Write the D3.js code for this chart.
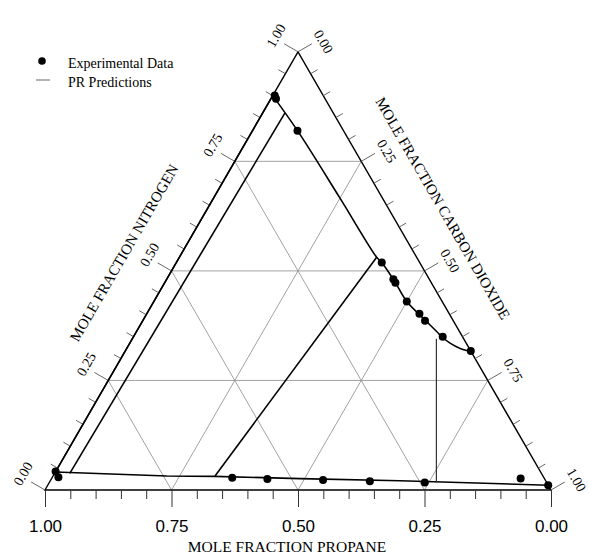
<!DOCTYPE html>
<html>
<head>
<meta charset="utf-8">
<script src="https://cdn.jsdelivr.net/npm/d3@7"></script>
<style>
  body { margin: 0; background: #fff; }
  svg { display: block; }
</style>
</head>
<body>
<svg id="chart" width="589" height="554"></svg>
<script>
// each row: [propane, nitrogen, carbon dioxide] mole fractions
const experimental = [
  [0.096, 0.900, 0.004],
  [0.097, 0.893, 0.010],
  [0.091, 0.820, 0.089],
  [0.075, 0.519, 0.406],
  [0.071, 0.481, 0.448],
  [0.071, 0.473, 0.456],
  [0.070, 0.430, 0.500],
  [0.059, 0.402, 0.539],
  [0.056, 0.386, 0.558],
  [0.039, 0.350, 0.611],
  [0.000, 0.317, 0.683],
  [0.958, 0.042, 0.000],
  [0.959, 0.029, 0.012],
  [0.616, 0.028, 0.356],
  [0.548, 0.025, 0.427],
  [0.439, 0.023, 0.538],
  [0.348, 0.020, 0.632],
  [0.241, 0.017, 0.742],
  [0.047, 0.026, 0.927],
  [0.000, 0.011, 0.989]
];

// PR prediction curves
const prLeft = [[0.959, 0.041, 0.000], [0.100, 0.900, 0.000]];
const prUpper = [
  [0.100, 0.900, 0.000],
  [0.091, 0.820, 0.089],
  [0.084, 0.666, 0.250],
  [0.079, 0.531, 0.390],
  [0.075, 0.519, 0.406],
  [0.071, 0.475, 0.454],
  [0.070, 0.430, 0.500],
  [0.055, 0.388, 0.557],
  [0.045, 0.361, 0.594],
  [0.040, 0.348, 0.612],
  [0.032, 0.335, 0.633],
  [0.018, 0.323, 0.659],
  [0.000, 0.316, 0.684]
];
const prInner = [[0.096, 0.860, 0.044], [0.932, 0.038, 0.030]];
const prTie = [[0.079, 0.531, 0.390], [0.648, 0.032, 0.320]];
const prVertical = [[0.054, 0.345, 0.601], [0.218, 0.017, 0.765]];
const prBottom = [
  [0.959, 0.041, 0.000],
  [0.743, 0.032, 0.225],
  [0.649, 0.031, 0.320],
  [0.483, 0.026, 0.491],
  [0.288, 0.021, 0.691],
  [0.000, 0.011, 0.989]
];

const gridValues = [0.25, 0.5, 0.75];
const tickValues = d3.range(0, 21).map(i => i / 20);
const majorTicks = [0, 0.25, 0.5, 0.75, 1];

const svg = d3.select("#chart");

const x = d3.scaleLinear().domain([0, 1]).range([45, 551]);
const y = d3.scaleLinear().domain([0, 1]).range([490, 490 - 506 * Math.sqrt(3) / 2]);

function proj(d) {
  return [x(d[2] + d[1] / 2), y(d[1])];
}

const S3 = Math.sqrt(3) / 2;
const isMajor = v => majorTicks.some(m => Math.abs(m - v) < 1e-6);

// grid
const grid = svg.append("g").attr("class", "grid");
gridValues.forEach(v => {
  [
    [[1 - v, v, 0], [0, v, 1 - v]],
    [[1 - v, 0, v], [0, 1 - v, v]],
    [[v, 1 - v, 0], [v, 0, 1 - v]]
  ].forEach(seg => {
    const a = proj(seg[0]), b = proj(seg[1]);
    grid.append("line")
      .attr("x1", a[0]).attr("y1", a[1])
      .attr("x2", b[0]).attr("y2", b[1])
      .attr("stroke", "#8a8a8a")
      .attr("stroke-width", 0.8);
  });
});

// triangle
const corners = [[1, 0, 0], [0, 0, 1], [0, 1, 0]].map(proj);
svg.append("path")
  .attr("d", "M" + corners.join("L") + "Z")
  .attr("fill", "none")
  .attr("stroke", "#000")
  .attr("stroke-width", 1.4);

// bottom axis (propane)
const propane = d3.scaleLinear().domain([1, 0]).range([45, 551]);
svg.append("g")
  .attr("transform", "translate(0,490)")
  .call(d3.axisBottom(propane).tickValues(tickValues.filter(v => !isMajor(v))).tickSize(9).tickFormat(""))
  .call(g => g.select(".domain").remove())
  .call(g => g.selectAll("line").attr("stroke", "#333"));

svg.append("g")
  .attr("transform", "translate(0,490)")
  .call(d3.axisBottom(propane).tickValues(majorTicks).tickSize(17).tickPadding(13).tickFormat(d3.format(".2f")))
  .call(g => g.select(".domain").remove())
  .call(g => g.selectAll("line").attr("stroke", "#333"))
  .call(g => g.selectAll("text")
    .attr("font-family", "Liberation Sans, Arial, sans-serif")
    .attr("font-size", 17)
    .attr("fill", "#000"));

svg.append("text")
  .attr("x", 287)
  .attr("y", 552)
  .attr("text-anchor", "middle")
  .attr("font-family", "Liberation Serif, Times New Roman, serif")
  .attr("font-size", 15.5)
  .text("MOLE FRACTION PROPANE");

// left axis (nitrogen) and right axis (carbon dioxide)
const sides = [
  {
    base: v => proj([1 - v, v, 0]),
    out: [-S3, -0.5],
    along: [0.5, -S3],
    rot: -60,
    lab: [27, 3],
    title: "MOLE FRACTION NITROGEN",
    titlePos: [50, -8]
  },
  {
    base: v => proj([0, 1 - v, v]),
    out: [S3, -0.5],
    along: [0.5, S3],
    rot: 60,
    lab: [27, 4],
    title: "MOLE FRACTION CARBON DIOXIDE",
    titlePos: [47, -45]
  }
];

sides.forEach(s => {
  const g = svg.append("g");
  tickValues.forEach(v => {
    const b = s.base(v);
    const len = isMajor(v) ? 16 : 8;
    g.append("line")
      .attr("x1", b[0]).attr("y1", b[1])
      .attr("x2", b[0] + s.out[0] * len)
      .attr("y2", b[1] + s.out[1] * len)
      .attr("stroke", "#555")
      .attr("stroke-width", 0.9);
  });
  majorTicks.forEach(v => {
    const b = s.base(v);
    const px = b[0] + s.out[0] * s.lab[0] + s.along[0] * s.lab[1];
    const py = b[1] + s.out[1] * s.lab[0] + s.along[1] * s.lab[1];
    g.append("text")
      .attr("transform", "translate(" + px + "," + py + ") rotate(" + s.rot + ")")
      .attr("text-anchor", "middle")
      .attr("dominant-baseline", "central")
      .attr("font-family", "Liberation Serif, Times New Roman, serif")
      .attr("font-size", 14)
      .text(d3.format(".2f")(v));
  });
  const m = s.base(0.5);
  const tx = m[0] + s.out[0] * s.titlePos[0] + s.along[0] * s.titlePos[1];
  const ty = m[1] + s.out[1] * s.titlePos[0] + s.along[1] * s.titlePos[1];
  g.append("text")
    .attr("transform", "translate(" + tx + "," + ty + ") rotate(" + s.rot + ")")
    .attr("text-anchor", "middle")
    .attr("dominant-baseline", "central")
    .attr("font-family", "Liberation Serif, Times New Roman, serif")
    .attr("font-size", 15)
    .text(s.title);
});

// PR predictions
const line = d3.line().x(d => proj(d)[0]).y(d => proj(d)[1]);
const smooth = d3.line().x(d => proj(d)[0]).y(d => proj(d)[1]).curve(d3.curveCatmullRom.alpha(0.5));

[prLeft, prInner, prTie, prBottom].forEach(data => {
  svg.append("path")
    .attr("d", line(data))
    .attr("fill", "none")
    .attr("stroke", "#000")
    .attr("stroke-width", 1.6);
});
svg.append("path")
  .attr("d", smooth(prUpper))
  .attr("fill", "none")
  .attr("stroke", "#000")
  .attr("stroke-width", 1.6);
svg.append("path")
  .attr("d", line(prVertical))
  .attr("fill", "none")
  .attr("stroke", "#333")
  .attr("stroke-width", 1.2);

// experimental data
svg.append("g")
  .selectAll("circle")
  .data(experimental)
  .enter()
  .append("circle")
  .attr("cx", d => proj(d)[0])
  .attr("cy", d => proj(d)[1])
  .attr("r", 4)
  .attr("fill", "#000");

// legend
const legend = svg.append("g").attr("font-family", "Liberation Serif, Times New Roman, serif").attr("font-size", 14);
legend.append("circle").attr("cx", 42).attr("cy", 61).attr("r", 3.8).attr("fill", "#000");
legend.append("text").attr("x", 68).attr("y", 68).text("Experimental Data");
legend.append("line")
  .attr("x1", 36).attr("x2", 50)
  .attr("y1", 80).attr("y2", 80)
  .attr("stroke", "#666")
  .attr("stroke-width", 1);
legend.append("text").attr("x", 68).attr("y", 87).text("PR Predictions");
</script>
</body>
</html>
